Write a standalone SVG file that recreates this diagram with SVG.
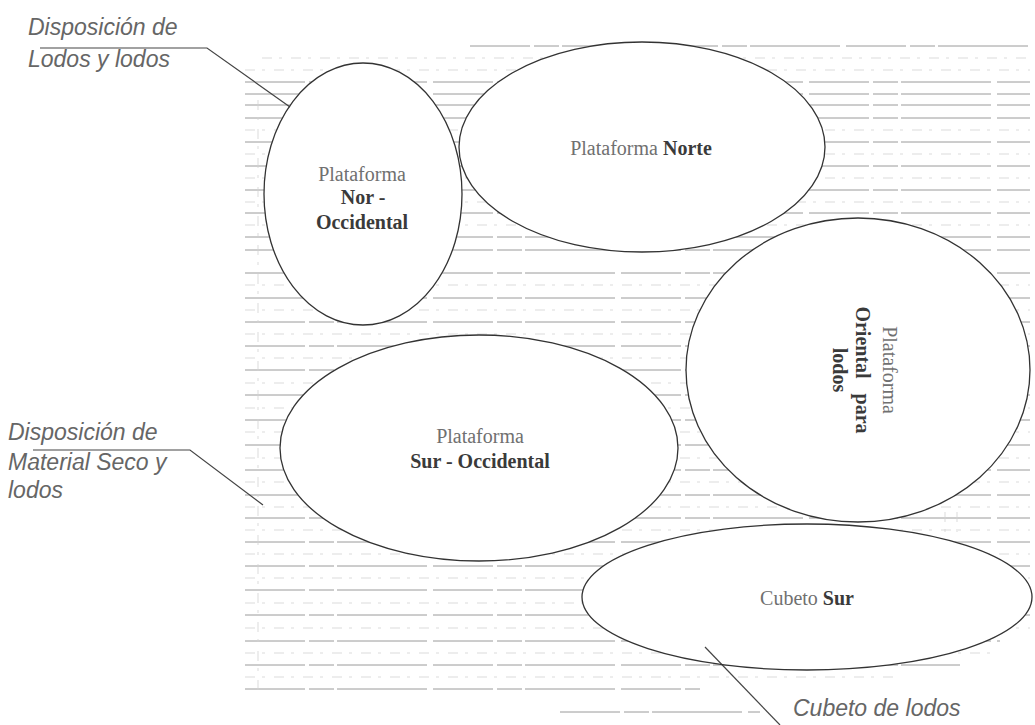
<svg xmlns="http://www.w3.org/2000/svg" width="1035" height="725" viewBox="0 0 1035 725">
<style>
.bg{fill:#fff}
.h1{stroke:#9a9a9a;stroke-width:1;stroke-dasharray:60 4 25 3 90 6}
.h2{stroke:#d2d2d2;stroke-width:0.8;stroke-dasharray:10 7 3 9}
.shape{fill:none;stroke:#333;stroke-width:1.3}
.t{font-family:"Liberation Serif","Times New Roman",serif;font-size:20px;fill:#707070;text-anchor:middle}
.b{font-weight:bold;fill:#3a3a3a}
.lab{font-family:"Liberation Sans",Arial,sans-serif;font-style:italic;font-size:23px;fill:#666}
.lead{fill:none;stroke:#444;stroke-width:1.2}
</style>
<defs>
<mask id="holes">
<rect x="0" y="0" width="1035" height="725" fill="#fff"/>
<ellipse cx="363" cy="194" rx="99" ry="131" fill="#000"/>
<ellipse cx="642" cy="147" rx="183" ry="105" fill="#000"/>
<ellipse cx="858" cy="370" rx="172" ry="152" fill="#000"/>
<ellipse cx="479" cy="448" rx="199" ry="113" fill="#000"/>
<ellipse cx="807" cy="597" rx="225" ry="73" fill="#000"/>
</mask>
</defs>
<rect class="bg" x="0" y="0" width="1035" height="725"/>
<g id="hatch" mask="url(#holes)">
<path class="h1" d="M470 46H1030M245 82H1030M245 94H1030M245 105H1030M245 118H1030M245 142H1030M245 166H1030M245 190H1030M245 213H1030M245 237H1030M245 250H1030M245 273H1030M245 298H1030M245 322H1030M245 346H1030M245 370H1030M245 395H1030M245 420H1030M245 445H1030M245 470H1030M245 495H1030M245 518H1030M245 542H1030M245 566H1030M245 590H1030M245 615H1030M245 641H1000M245 665H960M245 689H700M560 712H760"/>
<path class="h2" d="M262 58H1030M245 70H1030M245 130H1030M245 154H1030M245 178H1030M245 202H1030M245 225H1030M245 285H1030M245 310H1030M245 334H1030M245 358H1030M245 383H1030M245 408H1030M245 432H1030M245 458H1030M245 482H1030M245 507H1030M245 530H1030M245 554H1030M245 578H1030M245 603H1030M245 628H1030M245 653H990M245 677H900"/>
<path class="h2" d="M258 100V690M945 512V545M957 512V545"/>
</g>
<g id="connectors">
<polyline class="lead" points="40,48 207,48 290,107"/>
<polyline class="lead" points="33,450 190,450 263,505"/>
<line class="lead" x1="705" y1="647" x2="780" y2="725"/>
</g>
<g id="node-nor-occidental">
<ellipse class="shape" cx="363" cy="194" rx="99" ry="131"/>
<text class="t" x="362" y="181">Plataforma</text>
<text class="t b" x="363" y="204">Nor -</text>
<text class="t b" x="362" y="229">Occidental</text>
</g>
<g id="node-norte">
<ellipse class="shape" cx="642" cy="147" rx="183" ry="105"/>
<text class="t" x="641" y="155">Plataforma <tspan class="b">Norte</tspan></text>
</g>
<g id="node-oriental">
<ellipse class="shape" cx="858" cy="370" rx="172" ry="152"/>
<g transform="translate(860,370) rotate(90)">
<text class="t" x="0" y="-23">Plataforma</text>
<text class="t b" x="0" y="4" word-spacing="10">Oriental para</text>
<text class="t b" x="0" y="27">lodos</text>
</g>
</g>
<g id="node-sur-occidental">
<ellipse class="shape" cx="479" cy="448" rx="199" ry="113"/>
<text class="t" x="480" y="443">Plataforma</text>
<text class="t b" x="480" y="468">Sur - Occidental</text>
</g>
<g id="node-cubeto-sur">
<ellipse class="shape" cx="807" cy="597" rx="225" ry="73"/>
<text class="t" x="807" y="605">Cubeto <tspan class="b">Sur</tspan></text>
</g>
<g id="labels">
<text class="lab" x="28" y="35">Disposición de</text>
<text class="lab" x="28" y="67">Lodos y lodos</text>
<text class="lab" x="8" y="440">Disposición de</text>
<text class="lab" x="8" y="470">Material Seco y</text>
<text class="lab" x="8" y="498">lodos</text>
<text class="lab" x="793" y="716">Cubeto de lodos</text>
</g>
</svg>
